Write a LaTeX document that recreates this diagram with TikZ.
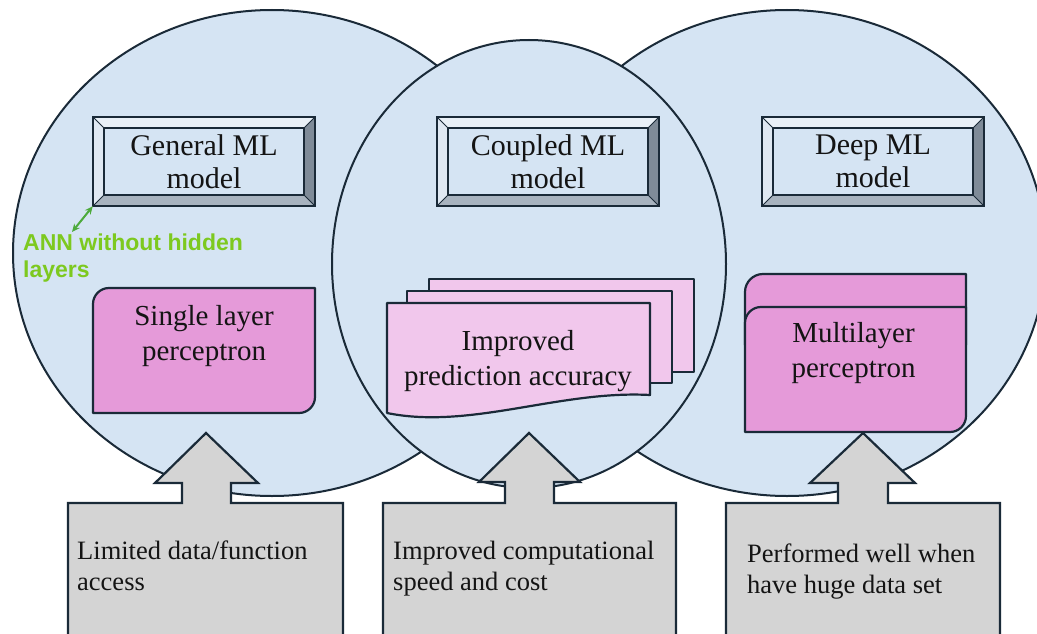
\documentclass[tikz,border=0pt]{standalone}
\usepackage{fontspec}
\setmainfont{Liberation Serif}
\newfontfamily\annfont{Liberation Sans}
\usetikzlibrary{calc,arrows.meta}

\definecolor{ink}{HTML}{1A2A38}
\definecolor{venncol}{HTML}{D5E4F3}
\definecolor{bevtopcol}{HTML}{E9F0F7}
\definecolor{bevleftcol}{HTML}{DFE8F2}
\definecolor{bevbotcol}{HTML}{A8B3BF}
\definecolor{bevrightcol}{HTML}{7F8B98}
\definecolor{pinkcol}{HTML}{E59AD9}
\definecolor{lightpink}{HTML}{F1C7EC}
\definecolor{greycol}{HTML}{D4D4D4}
\definecolor{anngreen}{HTML}{7DC91F}
\definecolor{arrowgreen}{HTML}{4DAA3C}
\definecolor{textcol}{HTML}{141414}

% bevelled frame around a named header node
\newcommand\bevelframe[1]{%
  \fill[bevtopcol] (#1.north west) -- (#1.north east) -- ($(#1.north east)+(-11.5,11.5)$) -- ($(#1.north west)+(11.5,11.5)$) -- cycle;
  \fill[bevleftcol] (#1.north west) -- ($(#1.north west)+(11.5,11.5)$) -- ($(#1.south west)+(11.5,-11.5)$) -- (#1.south west) -- cycle;
  \fill[bevbotcol] (#1.south west) -- ($(#1.south west)+(11.5,-11.5)$) -- ($(#1.south east)+(-11.5,-11.5)$) -- (#1.south east) -- cycle;
  \fill[bevrightcol] (#1.south east) -- ($(#1.south east)+(-11.5,-11.5)$) -- ($(#1.north east)+(-11.5,11.5)$) -- (#1.north east) -- cycle;
  \draw[ink, line width=1pt] (#1.north west) -- ++(11.5,11.5)
    (#1.north east) -- ++(-11.5,11.5)
    (#1.south west) -- ++(11.5,-11.5)
    (#1.south east) -- ++(-11.5,-11.5);
  \draw[ink, line width=2pt] ($(#1.north west)+(11.5,11.5)$) rectangle ($(#1.south east)+(-11.5,-11.5)$);
  \draw[ink, line width=2.4pt] (#1.north west) rectangle (#1.south east);
}

\begin{document}
\begin{tikzpicture}[x=1pt,y=-1pt,
  venn/.style={draw=ink, line width=2pt, fill=venncol},
  hdrbox/.style={fill=venncol, minimum width=222pt, minimum height=89pt, inner sep=0pt,
    align=center, text=textcol, font=\fontsize{30}{33}\selectfont},
  shapeline/.style={draw=ink, line width=2.2pt, line join=round},
  pinkshape/.style={shapeline, fill=pinkcol},
  docshape/.style={shapeline, fill=lightpink},
  arrowbox/.style={draw=ink, line width=2.2pt, fill=greycol, line join=miter},
  inlabel/.style={align=center, inner sep=0pt, text=textcol, font=\fontsize{29}{35}\selectfont},
  btmtext/.style={align=left, inner sep=0pt, anchor=north west, text=textcol, font=\fontsize{26.5}{31}\selectfont},
  anntext/.style={align=left, inner sep=0pt, anchor=north west, text=anngreen, font=\annfont\bfseries\fontsize{23}{27}\selectfont},
  annarrow/.style={draw=arrowgreen, line width=2pt, {Stealth[length=8pt,width=7pt]}-{Stealth[length=8pt,width=7pt]}}
]
\useasboundingbox (0,0) rectangle (1037,634);
\fill[white] (0,0) rectangle (1037,634);

% three overlapping model regions (the middle one on top)
\draw[venn] (272,253) ellipse [x radius=259pt, y radius=243pt];
\draw[venn] (787,253) ellipse [x radius=259pt, y radius=243pt];
\draw[venn] (529,264) ellipse [x radius=197pt, y radius=224pt];

% header boxes
\node[hdrbox] (gen) at (204,161.5) {General ML\\model};
\bevelframe{gen}
\node[hdrbox] (cpl) at (548,161.5) {Coupled ML\\model};
\bevelframe{cpl}
\node[hdrbox] (deep) at (873,161.5) {Deep ML\\model};
\bevelframe{deep}

% single layer perceptron
\path[pinkshape] (93,413) -- (93,304) .. controls (93,295.2) and (100.2,288) .. (109,288)
  -- (315,288) -- (315,397) .. controls (315,405.8) and (307.8,413) .. (299,413) -- cycle;
\node[inlabel] (slp) at (204,336) {Single layer\\perceptron};

% stacked documents
\path[docshape] (429,279) rectangle (694,372);
\path[docshape] (407,291) rectangle (672,383);
\path[docshape] (387,413) -- (387,303) -- (650,303) -- (650,395)
  .. controls (560,390) and (470,430) .. (387,413) -- cycle;
\node[inlabel] (ipa) at (518,361.5) {Improved\\prediction accuracy};

% multilayer perceptron (two stacked layers)
\path[pinkshape] (745,345) -- (745,292) .. controls (745,282.1) and (753.1,274) .. (763,274)
  -- (966,274) -- (966,345) -- cycle;
\path[pinkshape] (745,432) -- (745,323) .. controls (745,314.2) and (752.2,307) .. (761,307)
  -- (966,307) -- (966,416) .. controls (966,424.8) and (958.8,432) .. (950,432) -- cycle;
\node[inlabel] (mlp) at (853.5,353.5) {Multilayer\\perceptron};

% annotation
\node[anntext] (ann) at (23,234) {ANN without hidden\\layers};
\coordinate (annend) at (72,232);
\draw[annarrow] (annend) -- (gen.south west);

% property boxes with upward arrows
\path[arrowbox] (68,503) -- (182,503) -- (182,483) -- (155,483) -- (206,433) -- (258,483)
  -- (231,483) -- (231,503) -- (343,503) -- (343,660) -- (68,660) -- cycle;
\path[arrowbox] (383,503) -- (505,503) -- (505,482) -- (479,482) -- (529,433) -- (580,482)
  -- (554,482) -- (554,503) -- (676,503) -- (676,660) -- (383,660) -- cycle;
\path[arrowbox] (726,503) -- (838,503) -- (838,483) -- (810,483) -- (863,433) -- (915,483)
  -- (888,483) -- (888,503) -- (1000,503) -- (1000,660) -- (726,660) -- cycle;

\node[btmtext] (lim) at (77,540.5) {Limited data/function\\access};
\node[btmtext] (spd) at (393,540.5) {Improved computational\\speed and cost};
\node[btmtext] (huge) at (747,543.5) {Performed well when\\have huge data set};
\end{tikzpicture}
\end{document}
